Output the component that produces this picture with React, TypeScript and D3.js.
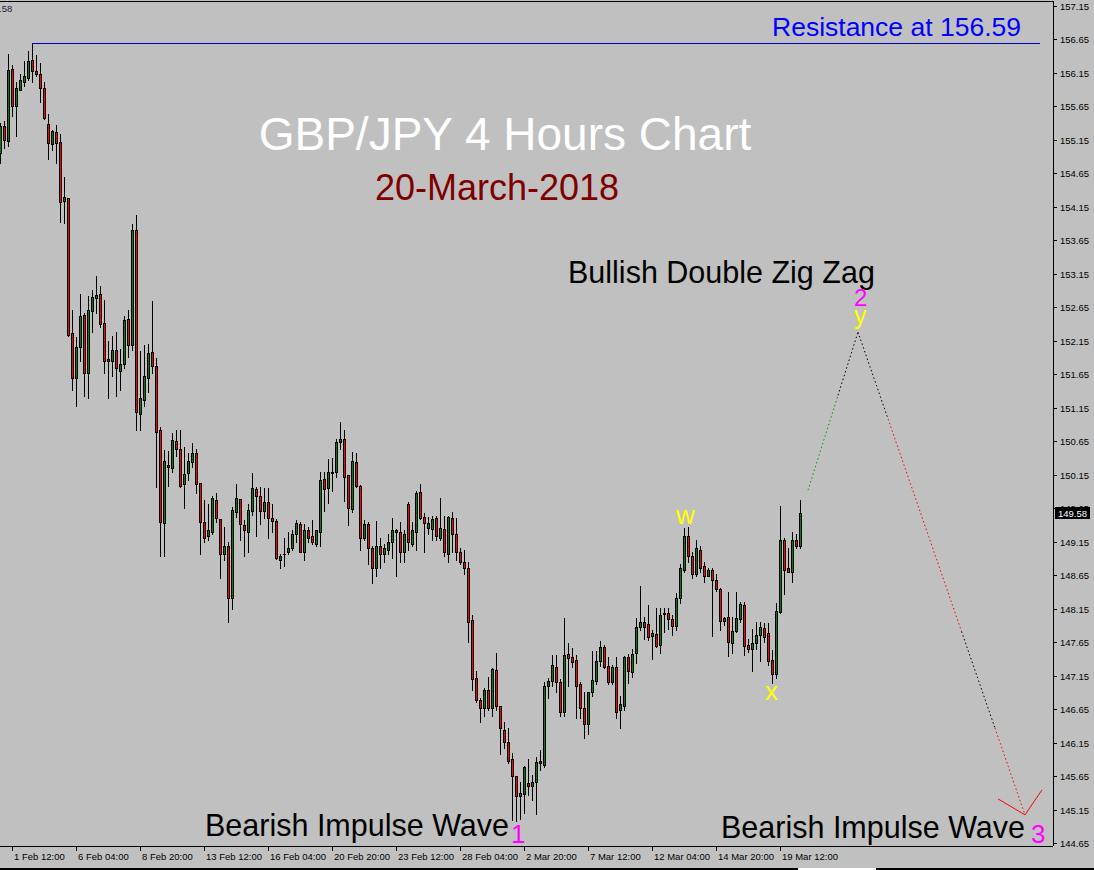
import * as d3 from "d3";

// GBP/JPY H4 candles, 1 Feb – 20 Mar 2018
const open = [
  154.96, 155.36, 155.14, 156.21, 155.65, 155.9, 156.01, 156.08, 156.34, 156.18,
  156.13, 155.93, 155.39, 155.09, 155.27, 155.12, 154.24, 154.28, 152.27, 151.59,
  152.06, 152.54, 151.67, 152.6, 152.79, 152.85, 152.42, 151.88, 151.85, 152.01,
  151.7, 151.8, 152.48, 152.09, 153.8, 151.05, 151.27, 151.6, 151.98, 151.77,
  150.82, 149.43, 150.3, 150.25, 150.66, 150.54, 150.01, 150.18, 150.34, 150.48,
  150.03, 149.44, 149.23, 149.29, 149.77, 149.49, 148.97, 149.08, 148.31, 149.59,
  149.79, 149.4, 149.3, 149.61, 149.94, 149.83, 149.61, 149.74, 149.5, 149.46,
  148.88, 148.96, 148.99, 149.06, 149.27, 149.41, 149.0, 149.32, 149.23, 149.12,
  149.3, 150.09, 149.95, 150.18, 150.19, 150.64, 150.69, 150.15, 149.64, 150.34,
  149.98, 149.21, 149.41, 149.06, 148.76, 149.09, 148.97, 149.03, 149.15, 149.29,
  149.3, 149.0, 149.71, 149.12, 149.3, 149.89, 149.52, 149.35, 149.34, 149.5,
  149.21, 149.34, 148.97, 149.5, 149.27, 149.0, 148.85, 148.75, 147.98, 147.11,
  146.79, 146.66, 146.93, 146.67, 147.23, 146.69, 146.34, 146.16, 145.91, 145.65,
  145.35, 145.38, 145.55, 145.5, 145.56, 145.88, 145.82, 146.99, 147.07, 147.28,
  147.05, 146.61, 147.47, 147.43, 147.38, 147.03, 146.67, 146.43, 146.9, 147.07,
  147.37, 147.58, 147.29, 147.05, 147.28, 146.63, 146.69, 147.43, 147.2, 147.49,
  147.88, 147.95, 147.92, 147.74, 147.77, 147.61, 148.07, 148.09, 148.0, 147.89,
  148.31, 148.73, 149.24, 148.94, 148.67, 149.03, 148.79, 148.64, 148.72, 148.58,
  148.45, 147.97, 148.03, 147.64, 147.82, 148.0, 148.21, 147.61, 147.55, 147.64,
  147.76, 147.86, 147.79, 147.38, 147.17, 148.1, 149.18, 148.75, 148.7, 149.18,
  149.08,
];

const high = [
  155.41, 155.44, 156.43, 156.27, 156.01, 156.13, 156.33, 156.48, 156.59, 156.42,
  156.3, 156.01, 155.54, 155.3, 155.38, 155.24, 154.6, 154.28, 152.61, 152.21,
  152.85, 152.57, 152.82, 152.91, 153.12, 152.97, 152.76, 152.15, 152.22, 152.28,
  152.03, 152.52, 152.61, 153.89, 154.03, 152.0, 152.09, 152.1, 152.75, 151.89,
  150.87, 150.52, 150.51, 150.78, 150.82, 150.82, 150.57, 150.48, 150.63, 150.54,
  150.03, 149.77, 149.71, 149.83, 149.88, 149.49, 149.37, 149.15, 149.67, 150.01,
  149.79, 149.47, 149.71, 150.18, 149.97, 149.97, 149.95, 149.95, 149.71, 149.49,
  148.97, 149.21, 149.3, 149.33, 149.47, 149.44, 149.41, 149.37, 149.47, 149.33,
  150.19, 150.19, 150.39, 150.4, 150.69, 150.93, 150.82, 150.15, 150.49, 150.48,
  150.0, 149.47, 149.44, 149.08, 149.46, 149.21, 149.11, 149.26, 149.5, 149.34,
  149.44, 149.33, 149.74, 149.44, 149.9, 150.01, 149.58, 149.52, 149.53, 149.53,
  149.8, 149.53, 149.53, 149.59, 149.5, 149.06, 149.03, 148.84, 148.06, 147.22,
  146.82, 146.96, 147.13, 147.26, 147.49, 146.69, 146.45, 146.36, 146.0, 145.65,
  145.56, 145.8, 145.91, 145.67, 145.94, 146.04, 147.05, 147.11, 147.46, 147.46,
  147.1, 148.01, 147.64, 147.56, 147.46, 147.05, 146.9, 146.91, 147.52, 147.52,
  147.67, 147.6, 147.43, 147.31, 147.43, 146.85, 147.44, 147.47, 147.55, 148.01,
  148.49, 148.03, 148.21, 147.83, 148.16, 148.16, 148.16, 148.16, 148.06, 148.39,
  148.82, 149.35, 149.37, 148.99, 149.17, 149.09, 148.85, 148.75, 148.76, 148.66,
  148.46, 148.03, 148.4, 148.03, 148.4, 148.25, 148.25, 147.7, 147.85, 147.95,
  147.95, 147.94, 147.94, 147.53, 148.24, 149.68, 149.21, 149.06, 149.29, 149.27,
  149.77,
];

const low = [
  154.81, 155.03, 155.06, 155.5, 155.21, 155.89, 155.95, 156.04, 156.02, 156.1,
  155.71, 155.46, 154.87, 155.0, 154.81, 153.92, 153.91, 152.22, 151.42, 151.18,
  151.85, 151.33, 151.29, 152.28, 152.57, 152.36, 151.67, 151.3, 151.62, 151.32,
  151.42, 151.74, 151.91, 152.01, 150.82, 150.82, 151.17, 151.39, 151.67, 149.97,
  148.93, 148.93, 149.98, 150.19, 150.43, 149.97, 149.65, 150.07, 150.27, 149.88,
  148.96, 149.15, 149.18, 149.26, 149.44, 148.61, 148.87, 147.95, 148.15, 149.52,
  149.18, 148.93, 149.0, 149.55, 149.24, 149.41, 149.5, 149.2, 149.3, 148.89,
  148.76, 148.79, 148.96, 149.02, 149.15, 148.99, 148.87, 149.15, 149.11, 149.08,
  149.08, 149.61, 149.73, 149.91, 150.12, 150.54, 149.76, 149.4, 149.59, 149.97,
  149.03, 149.18, 148.81, 148.54, 148.64, 148.76, 148.85, 148.96, 148.91, 148.63,
  148.85, 148.85, 149.03, 149.08, 149.03, 149.49, 148.99, 149.27, 149.17, 149.17,
  149.18, 148.93, 148.84, 148.99, 148.88, 148.81, 148.66, 147.65, 146.93, 146.76,
  146.45, 146.54, 146.64, 146.54, 146.64, 145.98, 146.07, 145.85, 144.99, 144.98,
  145.01, 145.1, 145.37, 145.29, 145.08, 145.74, 145.79, 146.82, 146.99, 146.91,
  146.54, 146.54, 146.99, 147.28, 146.52, 146.52, 146.22, 146.28, 146.85, 147.03,
  147.29, 147.27, 147.02, 147.03, 146.52, 146.37, 146.64, 147.04, 147.13, 147.34,
  147.83, 147.7, 147.68, 147.4, 147.58, 147.49, 147.8, 147.85, 147.76, 147.83,
  148.24, 148.7, 148.85, 148.61, 148.63, 148.69, 148.55, 148.63, 147.74, 148.42,
  147.83, 147.91, 147.44, 147.49, 147.8, 147.95, 147.46, 147.5, 147.22, 147.55,
  147.37, 147.65, 147.31, 147.04, 147.11, 148.09, 148.37, 148.69, 148.55, 149.06,
  149.05,
];

const close = [
  155.36, 155.15, 156.19, 155.66, 155.92, 156.04, 156.1, 156.33, 156.18, 156.13,
  155.92, 155.48, 155.11, 155.29, 155.11, 154.22, 154.3, 152.24, 151.6, 152.06,
  152.52, 151.67, 152.61, 152.81, 152.84, 152.4, 151.85, 151.85, 152.01, 151.74,
  151.8, 152.46, 152.09, 153.81, 151.08, 151.29, 151.62, 151.97, 151.77, 150.79,
  149.44, 150.36, 150.27, 150.67, 150.54, 149.98, 150.16, 150.36, 150.48, 150.01,
  149.44, 149.21, 149.32, 149.8, 149.5, 148.96, 149.09, 148.31, 149.62, 149.8,
  149.41, 149.33, 149.62, 149.95, 149.83, 149.61, 149.74, 149.5, 149.46, 148.9,
  148.94, 148.97, 149.06, 149.27, 149.43, 149.0, 149.33, 149.21, 149.14, 149.33,
  150.07, 149.94, 150.19, 150.19, 150.64, 150.69, 150.12, 149.65, 150.36, 149.98,
  149.21, 149.41, 149.05, 148.76, 149.09, 148.97, 149.05, 149.15, 149.33, 149.32,
  149.0, 149.27, 149.14, 149.33, 149.88, 149.5, 149.43, 149.43, 149.49, 149.23,
  149.35, 148.99, 149.52, 149.27, 149.0, 148.84, 148.75, 147.95, 147.1, 146.78,
  146.66, 146.93, 146.67, 147.25, 146.69, 146.36, 146.16, 145.88, 145.65, 145.35,
  145.4, 145.79, 145.5, 145.56, 145.86, 145.85, 147.0, 147.07, 147.31, 147.05,
  146.61, 147.46, 147.41, 147.35, 147.0, 146.67, 146.43, 146.91, 147.08, 147.37,
  147.58, 147.28, 147.05, 147.28, 146.61, 146.72, 147.43, 147.22, 147.47, 147.88,
  147.95, 147.88, 147.73, 147.79, 147.59, 148.06, 148.09, 148.0, 147.89, 148.31,
  148.75, 149.24, 148.93, 148.67, 149.05, 148.76, 148.64, 148.72, 148.58, 148.45,
  147.97, 148.01, 147.65, 147.82, 148.01, 148.22, 147.59, 147.55, 147.64, 147.76,
  147.88, 147.73, 147.37, 147.17, 148.12, 149.18, 148.72, 148.7, 149.18, 149.09,
  149.58,
];

const timeLabels = [
  "1 Feb 12:00", "6 Feb 04:00", "8 Feb 20:00", "13 Feb 12:00", "16 Feb 04:00",
  "20 Feb 20:00", "23 Feb 12:00", "28 Feb 04:00", "2 Mar 20:00", "7 Mar 12:00",
  "12 Mar 04:00", "14 Mar 20:00", "19 Mar 12:00",
];
const timeLabelBars = [3, 19, 35, 51, 67, 83, 99, 115, 131, 147, 163, 179, 195];

const priceTicks = [
  157.15, 156.65, 156.15, 155.65, 155.15, 154.65, 154.15, 153.65, 153.15, 152.65,
  152.15, 151.65, 151.15, 150.65, 150.15, 149.65, 149.15, 148.65, 148.15, 147.65,
  147.15, 146.65, 146.15, 145.65, 145.15, 144.65,
];

const resistance = 156.59;
const resistanceFromBar = 8;
const lastPrice = 149.58;

// projected wave path (bar index, price): start -> wave 2 (y) -> wave 3
const projection = [
  { bar: 202, price: 149.92 },
  { bar: 214.5, price: 152.28 },
  { bar: 256.25, price: 145.07 },
];

const W = 1094;
const H = 870;
const plotRight = 1053;
const plotBottom = 846;
const font = "'Liberation Sans', Arial, sans-serif";
const axisFont = "'Liberation Sans', Tahoma, sans-serif";

function dotted(
  a: [number, number],
  b: [number, number],
  parts: { t0: number; t1: number; color: string }[],
) {
  return parts.map((p, k) => (
    <line
      key={k}
      x1={a[0] + (b[0] - a[0]) * p.t0}
      y1={a[1] + (b[1] - a[1]) * p.t0}
      x2={a[0] + (b[0] - a[0]) * p.t1}
      y2={a[1] + (b[1] - a[1]) * p.t1}
      stroke={p.color}
      strokeWidth={1}
      strokeDasharray="1.5 2.5"
    />
  ));
}

export default function App() {
  const x = d3.scaleLinear().domain([0, 200]).range([0, 800]);
  const y = d3.scaleLinear().domain([144.65, 157.15]).range([843, 6]);

  const pts = projection.map((p) => [x(p.bar), y(p.price)] as [number, number]);
  const end = pts[2];

  return (
    <div style={{ position: "absolute", left: 0, top: 0 }}>
      <svg width={W} height={H} viewBox={`0 0 ${W} ${H}`} style={{ display: "block" }}>
        <rect width={W} height={H} fill="#c0c0c0" />

        {/* candles */}
        <g shapeRendering="crispEdges">
          {open.map((o, i) => {
            const c = close[i];
            const cx = Math.round(x(i));
            const top = Math.round(y(Math.max(o, c)));
            const bot = Math.round(y(Math.min(o, c)));
            const hi = Math.round(y(high[i]));
            const lo = Math.round(y(low[i]));
            const up = c >= o;
            return (
              <g key={i}>
                <rect x={cx} y={hi} width={1} height={Math.max(1, lo - hi + 1)} fill="#000" />
                <rect x={cx - 1} y={top} width={3} height={Math.max(1, bot - top + 1)} fill="#000" />
                {bot - top > 1 ? (
                  <rect x={cx} y={top + 1} width={1} height={bot - top - 1} fill={up ? "#008000" : "#ff0000"} />
                ) : null}
              </g>
            );
          })}
        </g>

        {/* resistance */}
        <line
          x1={x(resistanceFromBar)}
          x2={1040}
          y1={Math.round(y(resistance)) + 0.5}
          y2={Math.round(y(resistance)) + 0.5}
          stroke="#0000c8"
          strokeWidth={1}
        />

        {/* projected waves */}
        {dotted(pts[0], pts[1], [
          { t0: 0, t1: 0.6, color: "#00a000" },
          { t0: 0.6, t1: 1, color: "#000" },
        ])}
        {dotted(pts[1], pts[2], [
          { t0: 0, t1: 0.18, color: "#000" },
          { t0: 0.18, t1: 0.62, color: "#ff0000" },
          { t0: 0.62, t1: 0.82, color: "#000" },
          { t0: 0.82, t1: 1, color: "#ff0000" },
        ])}
        <line x1={end[0] - 27} y1={end[1] - 16} x2={end[0]} y2={end[1]} stroke="#ff0000" />
        <line x1={end[0]} y1={end[1]} x2={end[0] + 17} y2={end[1] - 25} stroke="#ff0000" />

        {/* frame */}
        <g shapeRendering="crispEdges">
          <line x1={0} x2={plotRight} y1={1.5} y2={1.5} stroke="#000" />
          <line x1={plotRight + 0.5} x2={plotRight + 0.5} y1={1} y2={plotBottom} stroke="#000" />
          <line x1={0} x2={plotRight} y1={plotBottom + 0.5} y2={plotBottom + 0.5} stroke="#000" />
          <line x1={0} x2={798} y1={868.5} y2={868.5} stroke="#000" strokeWidth={2} />
          <line x1={798} x2={876} y1={868.5} y2={868.5} stroke="#fff" strokeWidth={2} />
          <line x1={876} x2={W} y1={868.5} y2={868.5} stroke="#000" strokeWidth={2} />
        </g>

        {/* price axis */}
        {priceTicks.map((p) => {
          const py = Math.round(y(p));
          return (
            <g key={p}>
              <line x1={plotRight} x2={plotRight + 4} y1={py + 0.5} y2={py + 0.5} stroke="#000" shapeRendering="crispEdges" />
              <text x={1060} y={py + 3.5} fontFamily={axisFont} fontSize={9.5} fill="#000">
                {p.toFixed(2)}
              </text>
            </g>
          );
        })}
        <rect x={1055} y={Math.round(y(lastPrice)) - 6} width={35} height={12} fill="#000" />
        <text x={1058} y={Math.round(y(lastPrice)) + 3.5} fontFamily={axisFont} fontSize={9.5} fill="#fff">
          {lastPrice.toFixed(2)}
        </text>

        {/* time axis */}
        {timeLabels.map((label, k) => {
          const tx = Math.round(x(timeLabelBars[k]));
          return (
            <g key={label}>
              <line x1={tx + 0.5} x2={tx + 0.5} y1={plotBottom} y2={plotBottom + 5} stroke="#000" shapeRendering="crispEdges" />
              <text x={tx + 2} y={860} fontFamily={axisFont} fontSize={9.5} fill="#000">
                {label}
              </text>
            </g>
          );
        })}

        {/* header remnant */}
        <text x={-1} y={12} fontFamily={axisFont} fontSize={9.5} fill="#202040">
          .58
        </text>

        {/* annotations */}
        <text x={772} y={36} fontFamily={font} fontSize={26.5} fill="#0000ff">
          Resistance at 156.59
        </text>
        <text x={505} y={150} textAnchor="middle" fontFamily={font} fontSize={46} fill="#ffffff">
          GBP/JPY 4 Hours Chart
        </text>
        <text x={497} y={200} textAnchor="middle" fontFamily={font} fontSize={36} fill="#800000">
          20-March-2018
        </text>
        <text x={568} y={283} fontFamily={font} fontSize={30.5} fill="#000">
          Bullish Double Zig Zag
        </text>
        <text x={854} y={306} fontFamily={font} fontSize={24} fill="#ff00ff">
          2
        </text>
        <text x={854} y={324} fontFamily={font} fontSize={25} fill="#ffff00">
          y
        </text>
        <text x={676} y={524} fontFamily={font} fontSize={26} fill="#ffff00">
          w
        </text>
        <text x={765} y={700} fontFamily={font} fontSize={26} fill="#ffff00">
          x
        </text>
        <text x={205} y={836} fontFamily={font} fontSize={30.5} fill="#000">
          Bearish Impulse Wave
        </text>
        <text x={511} y={843} fontFamily={font} fontSize={26} fill="#ff00ff">
          1
        </text>
        <text x={721} y={838} fontFamily={font} fontSize={30.5} fill="#000">
          Bearish Impulse Wave
        </text>
        <text x={1031} y={843} fontFamily={font} fontSize={26} fill="#ff00ff">
          3
        </text>
      </svg>
    </div>
  );
}
